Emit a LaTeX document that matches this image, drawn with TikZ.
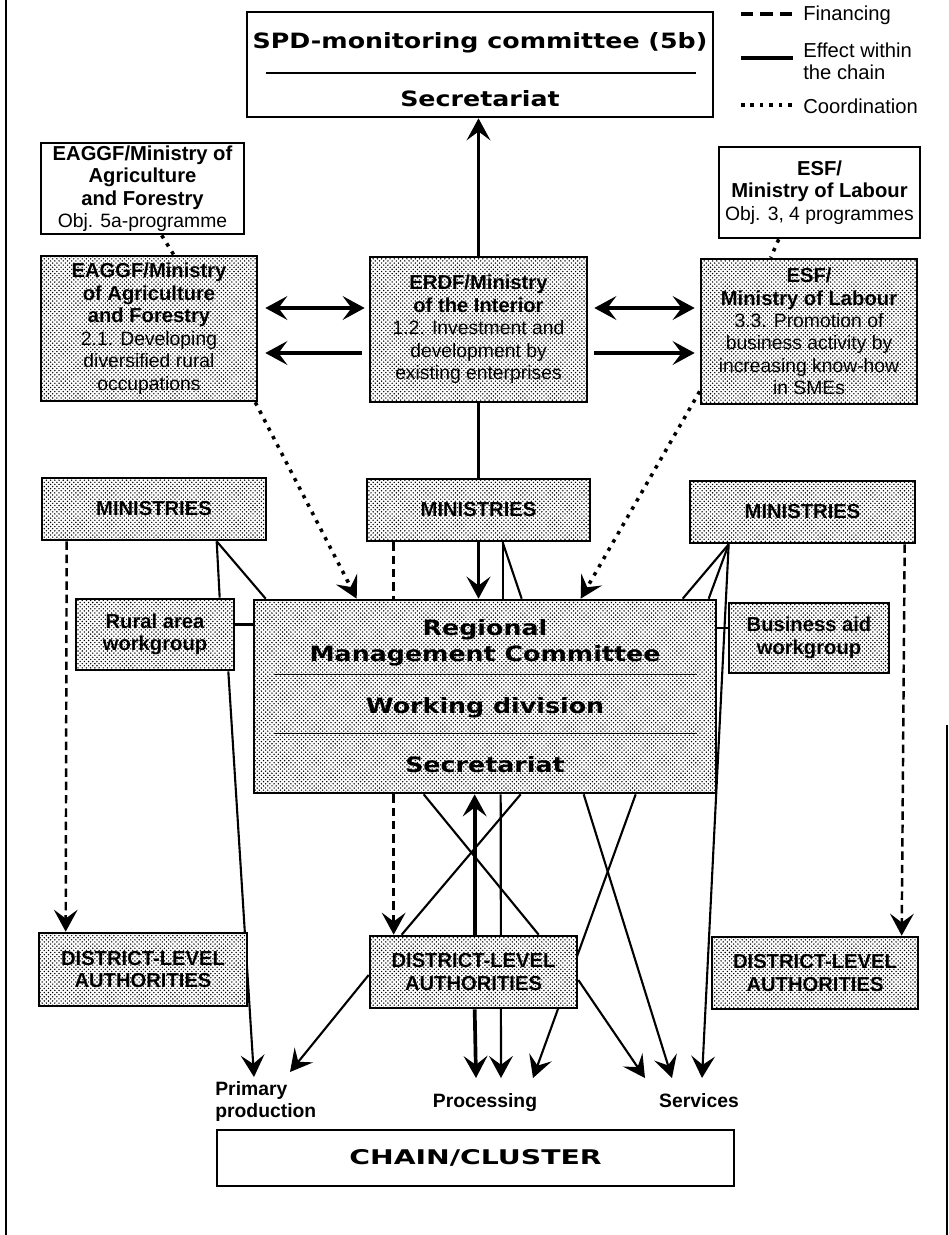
\documentclass[tikz,border=0pt]{standalone}
\usepackage{fontspec}
\setmainfont{Liberation Sans}
\newfontfamily\widefont[FakeStretch=1.2]{DejaVu Sans}
\newfontfamily\widerfont[FakeStretch=1.4]{DejaVu Sans}
\usetikzlibrary{arrows.meta,calc,patterns}
\newdimen\px \px=0.02cm
\newcommand{\aim}[1]{{\mdseries\fontsize{11}{12.6}\selectfont #1}}
% fine screen of dots for the programme and authority boxes
\pgfdeclarepatternformonly{halftone}{\pgfqpoint{-0.6pt}{-0.6pt}}{\pgfqpoint{1.8pt}{1.8pt}}{\pgfqpoint{2.4pt}{2.4pt}}{%
  \pgfpathcircle{\pgfqpoint{0pt}{0pt}}{0.45pt}%
  \pgfpathcircle{\pgfqpoint{1.2pt}{1.2pt}}{0.45pt}%
  \pgfusepath{fill}}
\tikzset{
  box/.style={draw, line width=1.5pt, align=center, inner sep=0pt,
    font=\bfseries\fontsize{11.5}{12.8}\selectfont},
  whitebox/.style={box, fill=white},
  dotbox/.style={box, preaction={fill=white}, pattern=halftone, pattern color=black},
  wide/.style={font=\widefont\bfseries\fontsize{12}{14}\selectfont, inner sep=0pt},
  sector/.style={font=\bfseries\fontsize{11}{12.6}\selectfont, inner sep=0pt},
  legend/.style={font=\fontsize{11.5}{12.5}\selectfont, anchor=west, align=left,
    inner sep=0pt},
  effect/.style={line width=1.2pt},
  strong/.style={line width=2.1pt},
  financing/.style={line width=1.4pt, dash pattern=on 4.8pt off 2.8pt},
  coordination/.style={line width=2pt, dash pattern=on 2pt off 3.4pt},
  rule/.style={line width=0.9pt},
  >={Stealth[length=12.5pt, width=13.5pt, inset=5pt]}}

\begin{document}
\begin{tikzpicture}[x=1\px, y=-1\px]
  \useasboundingbox (0,0) rectangle (949,1235);
  \draw[rule] (6,0) -- (6,1235);
  \draw[rule] (947,725) -- (947,1235);

  % ---- legend
  \node[legend] (legFin) at (803,15) {Financing};
  \node[legend] (legEff) at (803,61) {Effect within\\the chain};
  \node[legend] (legCoo) at (803,106) {Coordination};
  \draw[financing, line width=1.8pt, dash pattern=on 7pt off 4pt]
    ($(legFin.west)+(-62,-1)$) -- ($(legFin.west)+(-10,-1)$);
  \draw[strong, line width=2.6pt] ($(legEff.west)+(-62,-3)$) -- ($(legEff.west)+(-10,-3)$);
  \draw[coordination] ($(legCoo.west)+(-62,-1)$) -- ($(legCoo.west)+(-10,-1)$);

  % ---- monitoring committee
  \node[whitebox, minimum width=466\px, minimum height=105\px] (spd) at (480,64.5) {};
  \node[wide, anchor=base] (spdName) at (480,48) {SPD-monitoring committee (5b)};
  \node[wide, anchor=base] (spdSec) at (480,106) {Secretariat};
  \draw[rule] ($(spd.west)+(20,8.5)$) -- ($(spd.east)+(-18,8.5)$);

  % ---- national programmes
  \node[whitebox, minimum width=203\px, minimum height=91\px] (eaggfTop) at (142.5,188.5)
    {EAGGF/Ministry of\\Agriculture\\and Forestry\\\aim{Obj. 5a-programme}};
  \node[whitebox, minimum width=201\px, minimum height=91\px] (esfTop) at (819.5,192.5)
    {ESF/\\Ministry of Labour\\\aim{Obj. 3, 4 programmes}};

  % ---- the three funds of the 5b programme
  \node[dotbox, minimum width=216\px, minimum height=145\px] (eaggf) at (149,328.5)
    {EAGGF/Ministry\\of Agriculture\\and Forestry\\\aim{2.1. Developing}\\\aim{diversified rural}\\\aim{occupations}};
  \node[dotbox, minimum width=217\px, minimum height=145\px] (erdf) at (478.5,329.5)
    {ERDF/Ministry\\of the Interior\\\aim{1.2. Investment and}\\\aim{development by}\\\aim{existing enterprises}};
  \node[dotbox, minimum width=216\px, minimum height=145\px] (esf) at (809,331.5)
    {ESF/\\Ministry of Labour\\\aim{3.3. Promotion of}\\\aim{business activity by}\\\aim{increasing know-how}\\\aim{in SMEs}};

  % ---- ministries and workgroups
  \node[dotbox, minimum width=224\px, minimum height=62\px] (minL) at (154,509) {MINISTRIES};
  \node[dotbox, minimum width=223\px, minimum height=62\px] (minM) at (478.5,510) {MINISTRIES};
  \node[dotbox, minimum width=225\px, minimum height=62\px] (minR) at (802.5,512) {MINISTRIES};
  \node[dotbox, minimum width=158\px, minimum height=71\px] (rural) at (155,634.5) {Rural area\\workgroup};
  \node[dotbox, minimum width=160\px, minimum height=70\px] (biz) at (809,638) {Business aid\\workgroup};

  % ---- regional management committee
  \node[dotbox, minimum width=462\px, minimum height=193\px] (rmc) at (485,696.5) {};
  \node[wide, anchor=base] (rmcName) at (485,635) {Regional};
  \node[wide, anchor=base] (rmcName2) at (485,661) {Management Committee};
  \node[wide, anchor=base] (rmcDiv) at (485,713) {Working division};
  \node[wide, anchor=base] (rmcSec) at (485,772) {Secretariat};
  \draw[rule] ($(rmc.north west)+(21,76)$) -- ($(rmc.north east)+(-20,76)$);
  \draw[rule] ($(rmc.north west)+(21,135)$) -- ($(rmc.north east)+(-20,135)$);

  % ---- sectors of the chain
  \node[sector, anchor=north west, align=left] (primary) at (215,1081) {Primary\\production};
  \node[sector, anchor=north] (processing) at (485,1093) {Processing};
  \node[sector, anchor=north] (services) at (699,1093) {Services};
  \node[whitebox, minimum width=517\px, minimum height=56\px,
    font=\widerfont\bfseries\fontsize{11.5}{13}\selectfont] (chain) at (475.5,1158) {CHAIN/CLUSTER};

  % lines running behind the district boxes
  \draw[effect, ->] ($(rural.south east)+(-7,0)$) -- ($(primary.north west)+(39,-4)$);
  \draw[effect, ->] ($(rmc.south west)+(248,0)$) -- ($(processing.north)+(16,-15)$);
  \draw[effect, ->] ($(rmc.south west)+(383,0)$) -- ($(processing.north)+(48,-15)$);

  % ---- district-level authorities
  \node[dotbox, minimum width=208\px, minimum height=73\px] (distL) at (143,969.5) {DISTRICT-LEVEL\\AUTHORITIES};
  \node[dotbox, minimum width=207\px, minimum height=72\px] (distM) at (473.5,972) {DISTRICT-LEVEL\\AUTHORITIES};
  \node[dotbox, minimum width=206\px, minimum height=72\px] (distR) at (815,973) {DISTRICT-LEVEL\\AUTHORITIES};

  % ---- connectors at the top
  \draw[strong, ->] (erdf.north) -- (erdf.north |- spd.south);
  \draw[strong] (erdf.south) -- (erdf.south |- minM.north);
  \coordinate (rowA) at (0,308);
  \coordinate (rowB) at (0,353);
  \draw[strong, <->] ($(eaggf.east |- rowA)+(7,0)$) -- ($(erdf.west |- rowA)+(-4,0)$);
  \draw[strong, ->] ($(erdf.west |- rowB)+(-7,0)$) -- ($(eaggf.east |- rowB)+(7,0)$);
  \draw[strong, <->] ($(erdf.east |- rowA)+(6,0)$) -- ($(esf.west |- rowA)+(-5,0)$);
  \draw[strong, ->] ($(erdf.east |- rowB)+(6,0)$) -- ($(esf.west |- rowB)+(-5,0)$);
  \draw[coordination] ($(eaggfTop.south west)+(122,0)$) -- ($(eaggf.north west)+(134,0)$);
  \draw[coordination] ($(esfTop.south west)+(61,0)$) -- ($(esf.north west)+(71,0)$);
  \draw[coordination, ->] ($(eaggf.south east)+(-3,0)$) -- ($(rmc.north west)+(104,0)$);
  \draw[coordination, ->] ($(esf.south west)+(0,-14)$) -- ($(rmc.north west)+(328,0)$);

  % ---- left ministries
  \draw[financing, ->] ($(minL.south west)+(26,0)$) -- ($(distL.north west)+(28,0)$);
  \coordinate (minLfoot) at ($(minL.south west)+(176,0)$);
  \draw[effect] (minLfoot) -- ($(rural.north west)+(145,0)$);
  \draw[effect] (minLfoot) -- ($(rmc.north west)+(13,0)$);
  \draw[effect] ($(rural.east)+(0,-10)$) -- ($(rmc.west |- rural.east)+(0,-10)$);

  % ---- middle ministries
  \coordinate (finM) at ($(minM.south west)+(28,0)$);
  \draw[financing] (finM) -- (finM |- rmc.north);
  \draw[strong, ->] (minM.south) -- (minM.south |- rmc.north);
  \coordinate (minMfoot) at ($(minM.south west)+(137,0)$);
  \draw[effect] (minMfoot) -- (minMfoot |- rmc.north);
  \draw[effect] (minMfoot) -- ($(rmc.north west)+(269,0)$);

  % ---- right ministries
  \draw[financing, ->] ($(minR.south west)+(216,0)$) -- ($(distR.north west)+(191,0)$);
  \coordinate (minRfoot) at ($(minR.south west)+(40,0)$);
  \draw[effect] (minRfoot) -- ($(rmc.north west)+(430,0)$);
  \draw[effect] (minRfoot) -- ($(rmc.north west)+(456,0)$);
  \draw[effect, ->] (minRfoot) -- ($(services.north)+(3,-15)$);
  \draw[effect] ($(biz.west)+(0,-10)$) -- ($(rmc.east |- biz.west)+(0,-10)$);

  % ---- below the committee
  \coordinate (finB) at ($(rmc.south west)+(141,0)$);
  \draw[financing, ->] (finB) -- (finB |- distM.north);
  \draw[effect] ($(rmc.south west)+(171,0)$) -- ($(distM.north west)+(170,0)$);
  \draw[effect] ($(distM.north west)+(33,0)$) -- ($(rmc.south west)+(268,0)$);
  \coordinate (upM) at ($(distM.north west)+(106,0)$);
  \draw[strong, ->] (upM) -- (upM |- rmc.south);
  \draw[effect, ->] ($(rmc.south west)+(331,0)$) -- ($(services.north)+(-27,-15)$);
  \draw[strong, ->] ($(distM.south west)+(106,0)$) -- ($(processing.north)+(-9,-15)$);
  \draw[effect, ->] ($(distM.east)+(0,8)$) -- ($(services.north)+(-54,-15)$);
  \draw[effect, ->] ($(distM.west)+(0,3)$) -- ($(primary.north west)+(75,-9)$);
\end{tikzpicture}
\end{document}
